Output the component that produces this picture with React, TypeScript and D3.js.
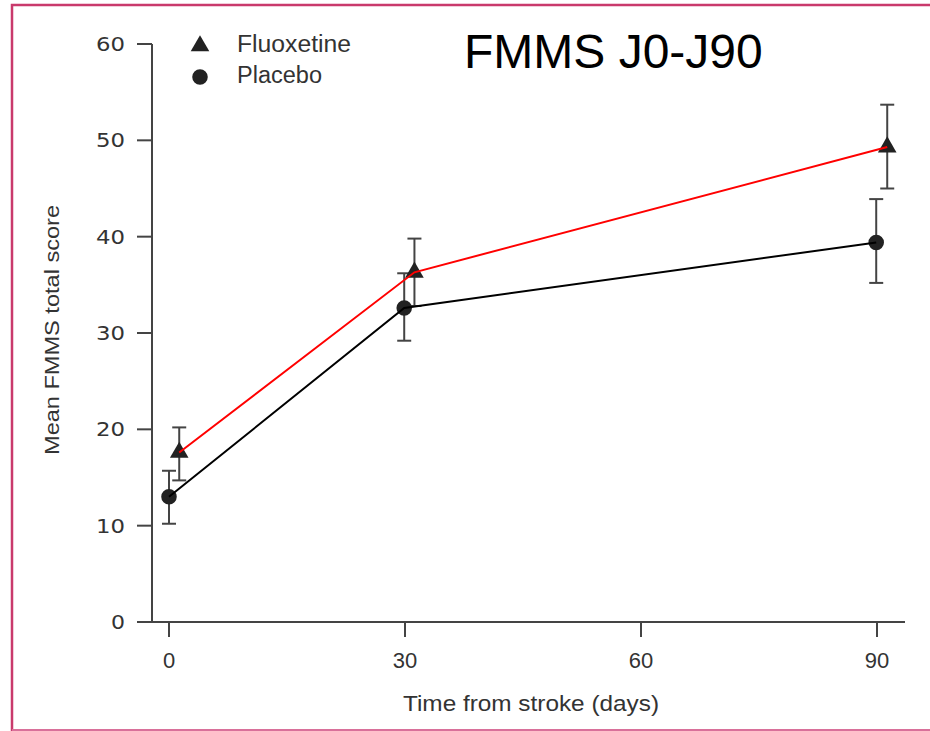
import React, { useEffect, useRef } from 'react';
import * as d3 from 'd3';

// values
const days = [0, 30, 90];
const fluoxetineDay = [1.3, 31.2, 91.3]; // dodged slightly right in the original
const fluoxetineMean = [17.6, 36.3, 49.3];
const fluoxetineLow = [14.7, 32.8, 45.0];
const fluoxetineHigh = [20.2, 39.8, 53.7];
const placeboDay = [0, 29.9, 89.9];
const placeboMean = [13.0, 32.6, 39.4];
const placeboLow = [10.2, 29.2, 35.2];
const placeboHigh = [15.7, 36.2, 43.9];
const xTicks = [0, 30, 60, 90];
const yTicks = [0, 10, 20, 30, 40, 50, 60];
const legendLabels = ['Fluoxetine', 'Placebo'];

const W = 930;
const H = 731;
const axisColor = '#444';
const textColor = '#333';
const labelFont = '"Liberation Sans Narrow", "Liberation Sans", Arial, sans-serif';
const tickFont = '"DejaVu Sans", Verdana, sans-serif';

const App = () => {
  const svgRef = useRef<SVGSVGElement>(null);

  useEffect(() => {
    const svg = d3.select(svgRef.current);
    svg.selectAll('*').remove();

    const x = d3.scaleLinear().domain([0, 90]).range([169, 877]);
    const y = d3.scaleLinear().domain([0, 60]).range([622, 44]);
    const axisX = 152;
    const axisY = y(0);

    // pink frame
    svg.append('path')
      .attr('d', `M12,${H} L12,5 L${W},5`)
      .attr('fill', 'none')
      .attr('stroke', '#c93a6c')
      .attr('stroke-width', 2.5);
    svg.append('line')
      .attr('x1', 12).attr('x2', W)
      .attr('y1', H - 1).attr('y2', H - 1)
      .attr('stroke', '#d9709a')
      .attr('stroke-width', 2);

    // y axis
    const g = svg.append('g');
    g.append('line')
      .attr('x1', axisX).attr('x2', axisX)
      .attr('y1', y(60)).attr('y2', axisY)
      .attr('stroke', axisColor).attr('stroke-width', 2);
    yTicks.forEach(t => {
      g.append('line')
        .attr('x1', axisX - 15).attr('x2', axisX)
        .attr('y1', y(t)).attr('y2', y(t))
        .attr('stroke', axisColor).attr('stroke-width', 2);
      g.append('text')
        .attr('x', 125).attr('y', y(t))
        .attr('dy', '0.35em')
        .attr('text-anchor', 'end')
        .attr('font-family', tickFont)
        .attr('font-size', 20)
        .attr('fill', textColor)
        .attr('textLength', t < 10 ? 14 : 29)
        .attr('lengthAdjust', 'spacingAndGlyphs')
        .text(t);
    });

    // x axis
    g.append('line')
      .attr('x1', axisX - 15).attr('x2', 905)
      .attr('y1', axisY).attr('y2', axisY)
      .attr('stroke', axisColor).attr('stroke-width', 2);
    xTicks.forEach(t => {
      g.append('line')
        .attr('x1', x(t)).attr('x2', x(t))
        .attr('y1', axisY).attr('y2', axisY + 15)
        .attr('stroke', axisColor).attr('stroke-width', 2);
      g.append('text')
        .attr('x', x(t)).attr('y', 668)
        .attr('text-anchor', 'middle')
        .attr('font-family', labelFont)
        .attr('font-size', 22)
        .attr('fill', textColor)
        .text(t);
    });

    // axis titles
    g.append('text')
      .attr('x', 531).attr('y', 711)
      .attr('text-anchor', 'middle')
      .attr('font-family', labelFont)
      .attr('font-size', 22)
      .attr('fill', textColor)
      .attr('textLength', 256)
      .attr('lengthAdjust', 'spacingAndGlyphs')
      .text('Time from stroke (days)');
    g.append('text')
      .attr('transform', `translate(59, 330) rotate(-90)`)
      .attr('text-anchor', 'middle')
      .attr('font-family', labelFont)
      .attr('font-size', 21)
      .attr('fill', textColor)
      .attr('textLength', 250)
      .attr('lengthAdjust', 'spacingAndGlyphs')
      .text('Mean FMMS total score');

    // title
    svg.append('text')
      .attr('x', 464).attr('y', 68)
      .attr('font-family', '"Liberation Sans", Arial, sans-serif')
      .attr('font-size', 48)
      .attr('fill', '#000')
      .text('FMMS J0-J90');

    const series = [
      { xs: fluoxetineDay, mean: fluoxetineMean, lo: fluoxetineLow, hi: fluoxetineHigh, color: '#ff0000', shape: d3.symbolTriangle },
      { xs: placeboDay, mean: placeboMean, lo: placeboLow, hi: placeboHigh, color: '#000', shape: d3.symbolCircle }
    ];

    // error bars
    series.forEach(s => {
      days.forEach((_, i) => {
        const cx = x(s.xs[i]);
        g.append('line')
          .attr('x1', cx).attr('x2', cx)
          .attr('y1', y(s.lo[i])).attr('y2', y(s.hi[i]))
          .attr('stroke', axisColor).attr('stroke-width', 2);
        [s.lo[i], s.hi[i]].forEach(v => {
          g.append('line')
            .attr('x1', cx - 7).attr('x2', cx + 7)
            .attr('y1', y(v)).attr('y2', y(v))
            .attr('stroke', axisColor).attr('stroke-width', 2);
        });
      });
    });

    // markers
    series.forEach(s => {
      g.selectAll(null)
        .data(days.map((_, i) => i))
        .enter()
        .append('path')
        .attr('transform', i => `translate(${x(s.xs[i])}, ${y(s.mean[i])})`)
        .attr('d', d3.symbol().type(s.shape).size(s.shape === d3.symbolCircle ? 190 : 150)())
        .attr('fill', '#222');
    });

    // connecting lines
    series.forEach(s => {
      const line = d3.line<number>()
        .x(i => x(s.xs[i]))
        .y(i => y(s.mean[i]));
      g.append('path')
        .datum(days.map((_, i) => i))
        .attr('fill', 'none')
        .attr('stroke', s.color)
        .attr('stroke-width', 2)
        .attr('d', line);
    });

    // legend
    const legend = svg.append('g');
    legendLabels.forEach((label, i) => {
      const ly = 46 + i * 31;
      legend.append('path')
        .attr('transform', `translate(200, ${ly})`)
        .attr('d', d3.symbol().type(i === 0 ? d3.symbolTriangle : d3.symbolCircle).size(i === 0 ? 150 : 190)())
        .attr('fill', '#222');
      legend.append('text')
        .attr('x', 237).attr('y', ly + 6)
        .attr('font-family', labelFont)
        .attr('font-size', 23)
        .attr('fill', textColor)
        .attr('textLength', i === 0 ? 114 : 85)
        .attr('lengthAdjust', 'spacingAndGlyphs')
        .text(label);
    });
  }, []);

  return (
    <div style={{ position: 'absolute', left: 0, top: 0 }}>
      <svg ref={svgRef} width={W} height={H} style={{ display: 'block', background: '#fff' }}></svg>
    </div>
  );
};

export default App;
